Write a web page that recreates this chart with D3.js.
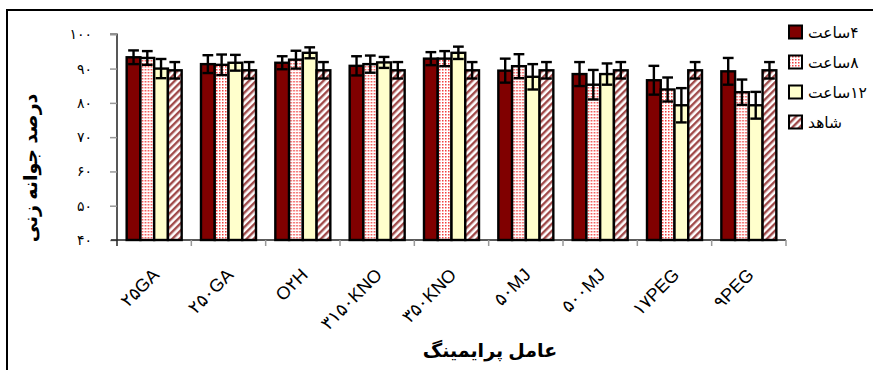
<!DOCTYPE html>
<html>
<head>
<meta charset="utf-8">
<script src="https://cdn.jsdelivr.net/npm/d3@7"></script>
<style>
  html, body { margin: 0; padding: 0; background: #fff; }
  svg { display: block; }
  text { font-family: "Liberation Sans", "DejaVu Sans", sans-serif; }
</style>
</head>
<body>
<svg id="chart" width="873" height="370"></svg>
<script>
// Priming treatments (x categories)
const categories = ["۲۵GA", "۲۵۰GA", "O۲H", "۳۱۵۰KNO", "۳۵۰KNO", "۵۰MJ", "۵۰۰MJ", "۱۷PEG", "۹PEG"];

// Germination percentage per priming duration, with error-bar half widths
const series = ["۴ساعت", "۸ساعت", "۱۲ساعت", "شاهد"];
const hours4  = [93.3, 91.3, 91.7, 90.8, 92.9, 89.4, 88.4, 86.6, 89.2];
const err4    = [2.0, 2.6, 1.9, 2.8, 1.9, 3.5, 3.5, 4.2, 3.9];
const hours8  = [93.1, 91.1, 92.6, 91.3, 92.9, 90.7, 85.3, 83.9, 83.1];
const err8    = [2.0, 3.0, 2.6, 2.5, 2.2, 3.5, 4.3, 3.5, 3.7];
const hours12 = [90.0, 91.7, 94.6, 91.8, 94.6, 87.6, 88.4, 79.3, 79.3];
const err12   = [2.8, 2.3, 1.6, 1.6, 1.8, 3.7, 3.1, 5.0, 3.9];
const control = [89.5, 89.5, 89.5, 89.5, 89.5, 89.5, 89.5, 89.5, 89.5];
const errCtl  = [2.4, 2.4, 2.4, 2.4, 2.4, 2.4, 2.4, 2.4, 2.4];

// Y tick values and their Persian labels
const yTicks = [40, 50, 60, 70, 80, 90, 100];
const yTickLabels = ["۴۰", "۵۰", "۶۰", "۷۰", "۸۰", "۹۰", "۱۰۰"];

const yTitle = "درصد جوانه زنی";
const xTitle = "عامل پرایمینگ";

const values = [hours4, hours8, hours12, control];
const errors = [err4, err8, err12, errCtl];

const svg = d3.select("#chart");
const defs = svg.append("defs");

// Dotted fill for 8 h
const dots = defs.append("pattern").attr("id", "dots")
  .attr("patternUnits", "userSpaceOnUse").attr("width", 3).attr("height", 3);
dots.append("rect").attr("width", 3).attr("height", 3).attr("fill", "#fff");
dots.append("rect").attr("x", 0).attr("y", 0).attr("width", 1.5).attr("height", 1.5).attr("fill", "#f24040");

// Diagonal hatch for control
const hatch = defs.append("pattern").attr("id", "hatch")
  .attr("patternUnits", "userSpaceOnUse").attr("width", 5).attr("height", 5)
  .attr("patternTransform", "rotate(45)");
hatch.append("rect").attr("width", 5).attr("height", 5).attr("fill", "#fff");
hatch.append("rect").attr("x", 0).attr("y", 0).attr("width", 2.4).attr("height", 5).attr("fill", "#a04a4a");

const fills = ["#800000", "url(#dots)", "#ffffcc", "url(#hatch)"];

const plot = { left: 117, right: 786, top: 34.3, bottom: 240 };

const x0 = d3.scaleBand().domain(categories)
  .range([plot.left, plot.right]).paddingInner(0.26).paddingOuter(0.13);
const x1 = d3.scaleBand().domain(d3.range(series.length))
  .range([0, x0.bandwidth()]).padding(0);
const y = d3.scaleLinear().domain([40, 100]).range([plot.bottom, plot.top]);

// Outer frame
svg.append("path")
  .attr("d", "M7,372 L7,10 L875,10")
  .attr("fill", "none").attr("stroke", "#000").attr("stroke-width", 2);

// Y axis
const yAxis = d3.axisLeft(y).tickValues(yTicks).tickSize(7).tickPadding(18)
  .tickFormat((d, i) => yTickLabels[i]);
const gy = svg.append("g").attr("transform", `translate(${plot.left},0)`).call(yAxis);
gy.select(".domain").attr("stroke", "#222").attr("stroke-width", 1.5).attr("d", `M-7,${y(100)}H0V${y(40)}`);
gy.selectAll(".tick line").attr("stroke", "#999").attr("stroke-width", 1.5);
gy.selectAll(".tick text").attr("font-size", 14).attr("letter-spacing", 3)
  .attr("fill", "#000").attr("font-family", "DejaVu Sans, sans-serif");

// X baseline and group boundary ticks
svg.append("line").attr("x1", plot.left - 6).attr("x2", plot.right)
  .attr("y1", plot.bottom).attr("y2", plot.bottom)
  .attr("stroke", "#222").attr("stroke-width", 1.5);
const step = x0.step();
const bounds = d3.range(categories.length + 1).map(i => x0(categories[0]) - x0.paddingOuter() * step + i * step);
svg.append("g").selectAll("line").data(bounds).join("line")
  .attr("x1", d => d).attr("x2", d => d)
  .attr("y1", plot.bottom).attr("y2", plot.bottom + 6)
  .attr("stroke", (d, i) => i === 0 ? "#222" : "#999").attr("stroke-width", 1.5);

// Bars
const groups = svg.append("g").selectAll("g").data(categories).join("g")
  .attr("transform", d => `translate(${x0(d)},0)`);

groups.each(function(cat, ci) {
  const g = d3.select(this);
  series.forEach((s, si) => {
    const v = values[si][ci];
    g.append("rect")
      .attr("x", x1(si)).attr("width", x1.bandwidth())
      .attr("y", y(v)).attr("height", y(40) - y(v))
      .attr("fill", fills[si]).attr("stroke", "#000").attr("stroke-width", 2.4);
  });
  series.forEach((s, si) => {
    const v = values[si][ci], e = errors[si][ci];
    const cx = x1(si) + x1.bandwidth() / 2;
    const hw = x1.bandwidth() / 2 - 1.5;
    const eb = g.append("g").attr("stroke", "#000").attr("stroke-width", 2.4).attr("fill", "none");
    eb.append("line").attr("x1", cx).attr("x2", cx).attr("y1", y(v - e)).attr("y2", y(v + e));
    eb.append("line").attr("x1", cx - hw).attr("x2", cx + hw).attr("y1", y(v + e)).attr("y2", y(v + e));
    eb.append("line").attr("x1", cx - hw).attr("x2", cx + hw).attr("y1", y(v - e)).attr("y2", y(v - e));
  });
});

// Category labels, rotated
svg.append("g").selectAll("text").data(categories).join("text")
  .attr("transform", d => `translate(${x0(d) + x0.bandwidth() / 2 + 6},276) rotate(-45)`)
  .attr("text-anchor", "end").attr("font-size", 18).attr("fill", "#000")
  .text(d => d);

// Axis titles
svg.append("text")
  .attr("transform", "translate(37,168) rotate(-90)")
  .attr("text-anchor", "middle").attr("font-size", 19).attr("font-weight", "bold")
  .attr("font-family", "DejaVu Sans, sans-serif")
  .text(yTitle);
svg.append("text")
  .attr("x", 490).attr("y", 357)
  .attr("text-anchor", "middle").attr("font-size", 19).attr("font-weight", "bold")
  .attr("font-family", "DejaVu Sans, sans-serif")
  .text(xTitle);

// Legend
const legend = svg.append("g").selectAll("g").data(series).join("g")
  .attr("transform", (d, i) => `translate(789,${32 + i * 30})`);
legend.append("rect").attr("x", 0).attr("y", -6.5).attr("width", 13).attr("height", 13)
  .attr("fill", (d, i) => fills[i]).attr("stroke", "#000").attr("stroke-width", 2);
legend.append("text").attr("x", 19).attr("y", 6)
  .attr("font-size", 15.5).attr("fill", "#000")
  .text(d => "\u200F" + d);
</script>
</body>
</html>
